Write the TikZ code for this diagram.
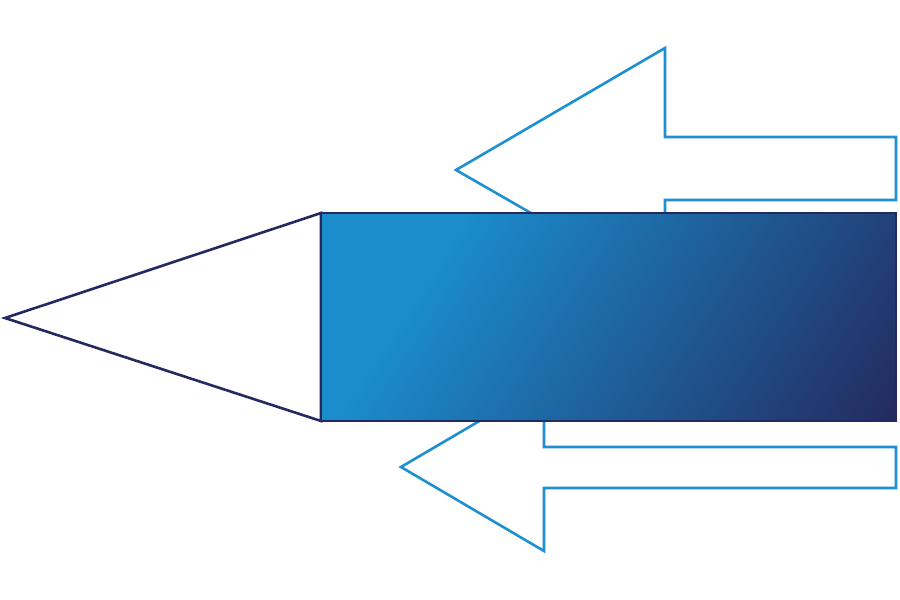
\documentclass[tikz,border=0pt]{standalone}
\usetikzlibrary{shadings}
\definecolor{arrowblue}{HTML}{1E8FD0}
\definecolor{lightblue}{HTML}{1B8CCC}
\definecolor{navy}{HTML}{232A5F}
\pgfdeclarehorizontalshading{rectshade}{100bp}{color(0bp)=(lightblue); color(35.4bp)=(lightblue); color(75bp)=(navy); color(100bp)=(navy)}
\tikzset{
  outlinearrow/.style={draw=arrowblue, line width=2.6pt, fill=white, line join=miter},
  navyline/.style={draw=navy, line width=2.6pt, line join=miter}
}
\begin{document}
\begin{tikzpicture}[x=1pt,y=-1pt]
\useasboundingbox (0,0) rectangle (900,600);
% upper arrow
\draw[outlinearrow] (456,170) -- (665,48) -- (665,137) -- (896,137) -- (896,200) -- (665,200) -- (665,290) -- cycle;
% lower arrow
\draw[outlinearrow] (401,467) -- (544,383) -- (544,447) -- (896,447) -- (896,488) -- (544,488) -- (544,551) -- cycle;
% cone
\coordinate (tip) at (5,318);
\coordinate (rtl) at (321,213);
\coordinate (rbr) at (896,421);
\coordinate (rbl) at (321,421);
\draw[navyline, fill=white] (tip) -- (rtl) -- (rbl) -- cycle;
% body
\begin{scope}
  \clip (rtl) rectangle (rbr);
  \shade[shading=rectshade, shading angle=-33] (308.5,17) rectangle (908.5,617);
\end{scope}
\draw[navyline] (rtl) rectangle (rbr);
\end{tikzpicture}
\end{document}
